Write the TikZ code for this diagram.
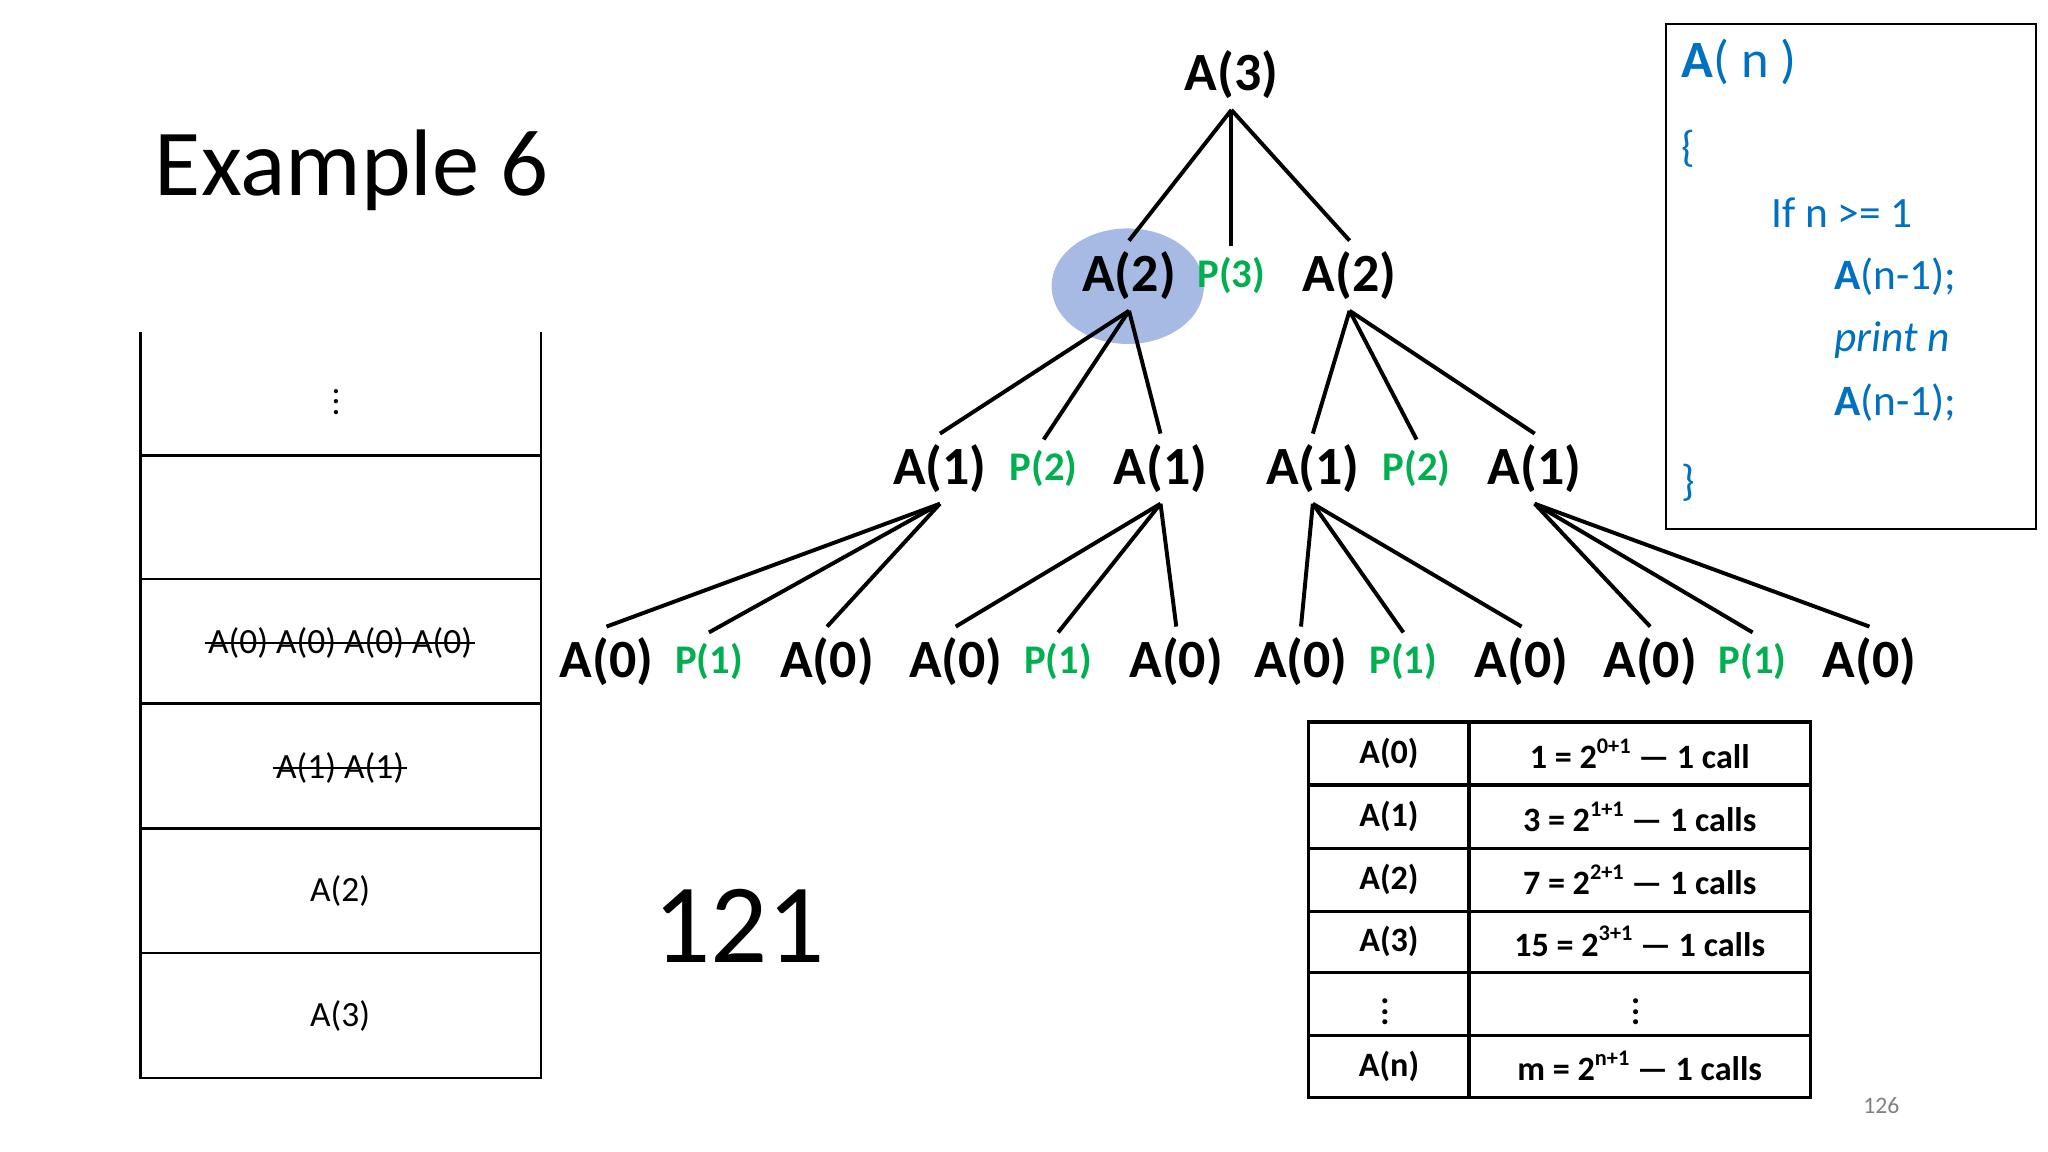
\documentclass[tikz,border=0pt]{standalone}
\usepackage{fontspec}
\setmainfont{Carlito}
\definecolor{grn}{RGB}{0,176,80}
\definecolor{cblue}{RGB}{0,112,192}
\definecolor{hl}{RGB}{166,186,228}
\tikzset{
 tn/.style={font=\fontsize{20.5}{24}\selectfont\bfseries, inner sep=4pt},
 pn/.style={font=\fontsize{15.5}{18}\selectfont\bfseries, text=grn, inner sep=4pt},
 st/.style={font=\fontsize{13.5}{16}\selectfont, inner sep=1pt},
 cd/.style={font=\fontsize{16.5}{20}\selectfont, text=cblue, anchor=west},
 tb/.style={font=\fontsize{13}{16}\selectfont\bfseries},
 ed/.style={line width=1.5pt},
}
\newcommand{\sps}[1]{\raisebox{0.45em}{\fontsize{8.5}{10}\selectfont #1}}
\begin{document}
\begin{tikzpicture}[x=0.5pt,y=-0.5pt]
\useasboundingbox (0,0) rectangle (1560,877.5);
% title
\node[font=\fontsize{36}{40}\selectfont] (title) at (268,130) {Example 6};
% stack
\draw[line width=0.9pt] (107,253) -- (107,821) -- (412,821) -- (412,253);
\foreach \yy in {347,441,536,631,726} \draw[line width=0.9pt] (107,\yy) -- (412,\yy);
\node[st] (s0) at (256,300) {$\vdots$};
\node[st] (s1) at (259,490) {A(0) A(0) A(0) A(0)};
\node[st] (s2) at (259,585) {A(1) A(1)};
\node[st] (s3) at (259,679) {A(2)};
\node[st] (s4) at (259,774) {A(3)};
\draw[line width=0.7pt] (s1.west |- 0,490) -- (s1.east |- 0,490);
\draw[line width=0.7pt] (s2.west |- 0,585) -- (s2.east |- 0,585);
\node[font=\fontsize{43}{48}\selectfont] (n121) at (563,705) {121};
% tree
\fill[hl] (859,218) ellipse [x radius=58, y radius=44];
\node[tn] (a3) at (938,57) {A(3)};
\node[tn] (a2a) at (860,210) {A(2)};
\node[pn] (p3) at (938,210) {P(3)};
\node[tn] (a2b) at (1028,210) {A(2)};
\node[tn] (a1a) at (716,357) {A(1)};
\node[pn] (p2a) at (795,357) {P(2)};
\node[tn] (a1b) at (884,357) {A(1)};
\node[tn] (a1c) at (1000,357) {A(1)};
\node[pn] (p2b) at (1079,357) {P(2)};
\node[tn] (a1d) at (1169,357) {A(1)};
\foreach \nm/\xx in {a0a/462,a0b/630,a0c/728,a0d/896,a0e/991,a0f/1159,a0g/1257,a0h/1424}
  \node[tn] (\nm) at (\xx,504) {A(0)};
\foreach \nm/\xx in {p1a/540,p1b/806,p1c/1069,p1d/1335}
  \node[pn] (\nm) at (\xx,504) {P(1)};
\draw[ed] (a3.south) -- (a2a.north);
\draw[ed] (a3.south) -- (p3.north);
\draw[ed] (a3.south) -- (a2b.north);
\foreach \p/\a/\b/\c in {a2a/a1a/p2a/a1b, a2b/a1c/p2b/a1d, a1a/a0a/p1a/a0b, a1b/a0c/p1b/a0d, a1c/a0e/p1c/a0f, a1d/a0g/p1d/a0h}{
  \draw[ed] (\p.south) -- (\a.north);
  \draw[ed] (\p.south) -- (\b.north);
  \draw[ed] (\p.south) -- (\c.north);
}
% code box
\draw[line width=0.8pt] (1269,18) rectangle (1551,403);
\node[cd,font=\fontsize{20}{24}\selectfont] (c0) at (1274,47) {\textbf{A}( n )};
\node[cd] (c1) at (1274,113) {\{};
\node[cd] (c2) at (1342,162) {If n >= 1};
\node[cd] (c3) at (1390,211) {\textbf{A}(n-1);};
\node[cd] (c4) at (1390,259) {\itshape print n};
\node[cd] (c5) at (1390,307) {\textbf{A}(n-1);};
\node[cd] (c6) at (1274,368) {\}};
% table
\draw[line width=1.2pt] (997,550) rectangle (1379,836);
\draw[line width=1.2pt] (1119,550) -- (1119,836);
\foreach \yy in {598,646,694,741,789} \draw[line width=1.2pt] (997,\yy) -- (1379,\yy);
\node[tb] (t1) at (1058,574) {A(0)};
\node[tb] (u1) at (1249,574) {1 = 2\sps{0+1} — 1 call};
\node[tb] (t2) at (1058,622) {A(1)};
\node[tb] (u2) at (1249,622) {3 = 2\sps{1+1} — 1 calls};
\node[tb] (t3) at (1058,670) {A(2)};
\node[tb] (u3) at (1249,670) {7 = 2\sps{2+1} — 1 calls};
\node[tb] (t4) at (1058,717) {A(3)};
\node[tb] (u4) at (1249,717) {15 = 2\sps{3+1} — 1 calls};
\node[tb] (t5) at (1055,765) {$\vdots$};
\node[tb] (u5) at (1246,765) {$\vdots$};
\node[tb] (t6) at (1058,812) {A(n)};
\node[tb] (u6) at (1249,812) {m = 2\sps{n+1} — 1 calls};
\node[font=\fontsize{9}{10}\selectfont, text=gray] (pg) at (1433,842) {126};
\end{tikzpicture}
\end{document}
